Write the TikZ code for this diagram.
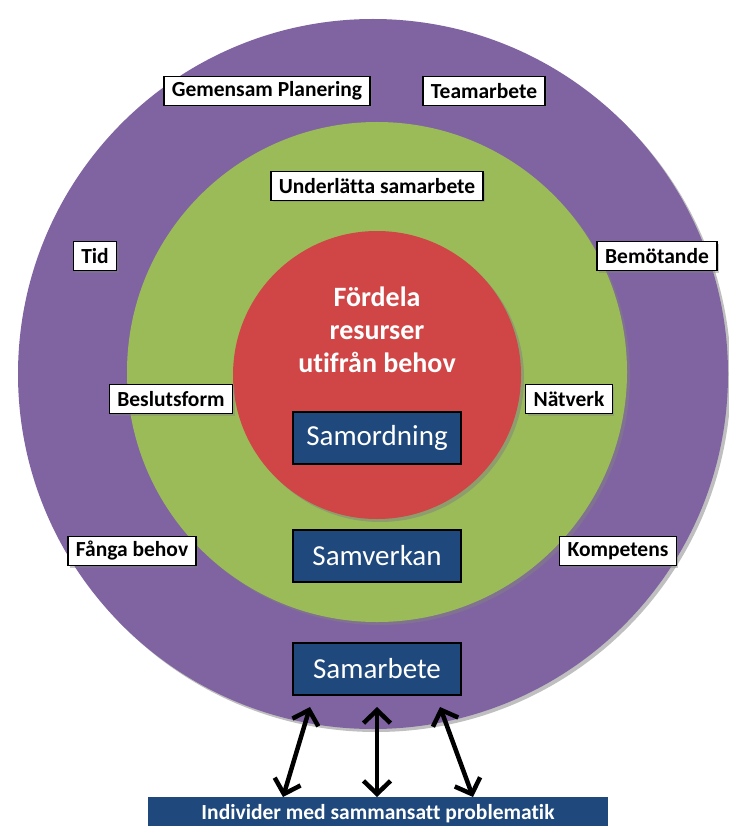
\documentclass[tikz,border=0pt]{standalone}
\usepackage{fontspec}
\setmainfont{Carlito}[Ligatures=NoCommon]
\usetikzlibrary{shadows,arrows.meta}
\definecolor{ringpurple}{HTML}{8064A2}
\definecolor{ringgreen}{HTML}{9BBB59}
\definecolor{ringred}{HTML}{D04545}
\definecolor{boxblue}{HTML}{1F497D}
\tikzset{
  lbl/.style={draw=black, line width=1.5pt, fill=white, font=\fontsize{21.5}{23}\selectfont\bfseries,
    inner xsep=8pt, inner ysep=3pt, minimum height=29pt,
    drop shadow={opacity=0.4, shadow xshift=2pt, shadow yshift=-2pt}},
  bluebox/.style={draw=black, line width=1.5pt, fill=boxblue, text=white, font=\fontsize{29}{32}\selectfont,
    minimum width=168pt, minimum height=52pt},
  ring/.style={circle, line width=0pt, drop shadow={opacity=0.5, shadow xshift=3pt, shadow yshift=-3pt}},
  dblarrow/.style={{Straight Barb[length=13pt,width=27pt]}-{Straight Barb[length=13pt,width=27pt]}, line width=4.5pt, black}
}
\begin{document}
\begin{tikzpicture}[x=1pt,y=-1pt]
\useasboundingbox (0,0) rectangle (728,826);
\fill[white] (0,0) rectangle (728,826);
% rings
\node[ring, fill=ringpurple, minimum size=710pt] (outer) at (373,374) {};
\node[ring, fill=ringgreen, minimum size=500pt] (mid) at (377,372) {};
\node[ring, fill=ringred, minimum size=288pt] (inner) at (377,375) {};
% central text
\node[text=white, font=\fontsize{28}{33}\selectfont\bfseries, align=center] (center) at (377,330)
  {Fördela\\resurser\\utifrån behov};
% blue boxes
\node[bluebox] (samordning) at (377,438) {Samordning};
\node[bluebox] (samverkan) at (377,556) {Samverkan};
\node[bluebox] (samarbete) at (377,669) {Samarbete};
% labels
\node[lbl] (gemensam) at (267,91) {Gemensam Planering};
\node[lbl] (team) at (484,91) {Teamarbete};
\node[lbl] (underlatta) at (377,186) {Underlätta samarbete};
\node[lbl] (tid) at (95,256) {Tid};
\node[lbl] (bemotande) at (657,256) {Bemötande};
\node[lbl] (beslut) at (171,399) {Beslutsform};
\node[lbl] (natverk) at (569,399) {Nätverk};
\node[lbl] (fanga) at (132,551) {Fånga behov};
\node[lbl] (kompetens) at (618,551) {Kompetens};
% bottom bar
\node[fill=boxblue, text=white, font=\fontsize{21.5}{23}\selectfont\bfseries, minimum width=460pt, minimum height=32pt, anchor=north] (indiv) at (378,797) {Individer med sammansatt problematik};
% arrows
\coordinate (a1) at (310,707);
\coordinate (a2) at (377,707);
\coordinate (a3) at (440,707);
\coordinate (b1) at (283,797);
\coordinate (b2) at (377,797);
\coordinate (b3) at (473,797);
\draw[dblarrow] (a1) -- (b1);
\draw[dblarrow] (a2) -- (b2);
\draw[dblarrow] (a3) -- (b3);
\end{tikzpicture}
\end{document}
